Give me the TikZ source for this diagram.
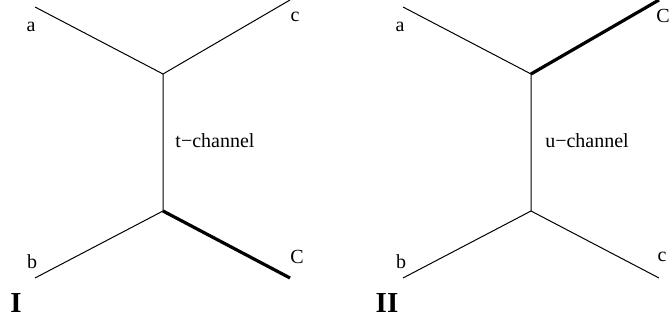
\documentclass[tikz,border=0pt]{standalone}
\usepackage{fontspec}
\setmainfont{Liberation Serif}
\usepackage{tikz}
\usetikzlibrary{positioning}
\tikzset{leg/.style={line width=0.5pt},heavy/.style={line width=1.6pt},
lbl/.style={inner sep=0pt,font=\fontsize{10}{12}\selectfont},
tag/.style={inner sep=0pt,font=\fontsize{14.5}{16}\selectfont\bfseries}}
\begin{document}
\begin{tikzpicture}[x=0.5pt,y=-0.5pt]
\useasboundingbox(0,0)rectangle(672,324);
\coordinate(Ia)at(35,7);
\coordinate(Ic)at(290,0);
\coordinate(Iup)at(163,74);
\coordinate(Idn)at(163,211);
\coordinate(Ib)at(35,278);
\coordinate(IC)at(290,278);
\draw[leg](Ia)--(Iup)--(Ic);
\draw[leg](Iup)--(Idn)--(Ib);
\draw[heavy](Idn)--(IC);
\node[lbl](la1)at(31,27){a};
\node[lbl](lc1)at(295,17){c};
\node[lbl](lb1)at(32,262){b};
\node[lbl](lC1)at(297,257){C};
\node[lbl](ch1)at(215,141){t\textminus channel};
\node[tag](n1)at(16,303){I};
\coordinate(IIa)at(403,7);
\coordinate(IIC)at(659,0);
\coordinate(IIup)at(531,74);
\coordinate(IIdn)at(531,211);
\coordinate(IIb)at(403,278);
\coordinate(IIc)at(659,278);
\draw[leg](IIa)--(IIup);
\draw[heavy](IIup)--(IIC);
\draw[leg](IIup)--(IIdn)--(IIb);
\draw[leg](IIdn)--(IIc);
\node[lbl](la2)at(400,27){a};
\node[lbl](lC2)at(663,16){C};
\node[lbl](lb2)at(401,262){b};
\node[lbl](lc2)at(662,257){c};
\node[lbl](ch2)at(587,141){u\textminus channel};
\node[tag](n2)at(387,303){II};
\end{tikzpicture}
\end{document}
